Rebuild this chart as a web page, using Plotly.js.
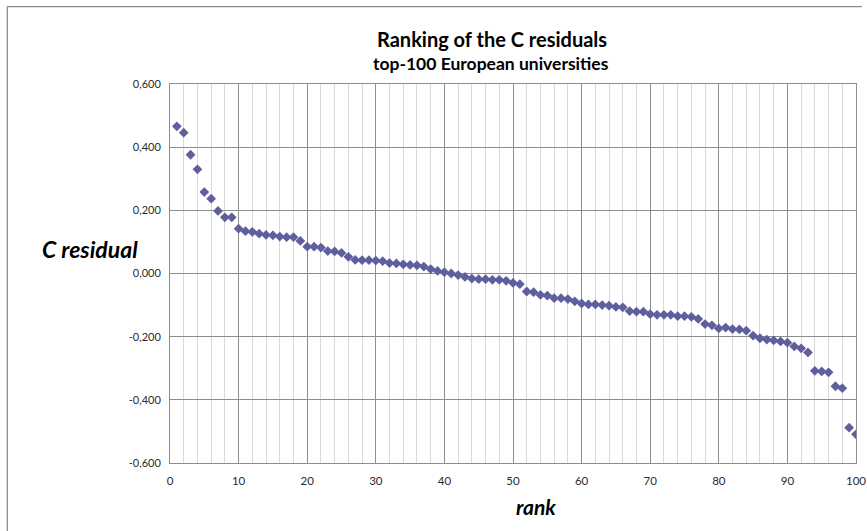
<!DOCTYPE html>
<html>
<head>
<meta charset="utf-8">
<script src="https://cdn.plot.ly/plotly-3.0.1.min.js"></script>
<style>html,body{margin:0;padding:0;background:#fff;}#chart{width:867px;height:531px;}</style>
</head>
<body>
<div id="chart"></div>
<script>
const ranks = [];
for (let i = 1; i <= 100; i++) ranks.push(i);

const residuals = [
  0.466, 0.446, 0.376, 0.330, 0.258, 0.237, 0.198, 0.178, 0.178, 0.142,
  0.134, 0.132, 0.126, 0.122, 0.121, 0.117, 0.115, 0.115, 0.103, 0.085,
  0.085, 0.082, 0.071, 0.070, 0.065, 0.053, 0.043, 0.042, 0.042, 0.041,
  0.039, 0.033, 0.032, 0.029, 0.027, 0.026, 0.022, 0.014, 0.008, 0.004,
  0.000, -0.005, -0.011, -0.016, -0.018, -0.018, -0.020, -0.020, -0.023, -0.030,
  -0.034, -0.057, -0.059, -0.068, -0.070, -0.078, -0.078, -0.081, -0.088, -0.095,
  -0.098, -0.098, -0.100, -0.102, -0.106, -0.107, -0.119, -0.121, -0.121, -0.129,
  -0.131, -0.131, -0.131, -0.135, -0.135, -0.137, -0.144, -0.160, -0.164, -0.174,
  -0.171, -0.176, -0.177, -0.181, -0.197, -0.205, -0.209, -0.212, -0.215, -0.219,
  -0.231, -0.237, -0.250, -0.308, -0.310, -0.313, -0.357, -0.363, -0.488, -0.509
];

const yTickVals = [0.6, 0.4, 0.2, 0, -0.2, -0.4, -0.6];
const yTickText = ["0,600", "0,400", "0,200", "0,000", "-0,200", "-0,400", "-0,600"];
const xTickVals = [0, 10, 20, 30, 40, 50, 60, 70, 80, 90, 100];

const chartTitle = "Ranking of the C residuals";
const chartSubtitle = "top-100 European universities";
const xTitle = "rank";
const yTitle = "C residual";

const FONT = "Lato, 'Open Sans', sans-serif";
const gridDark = "#8e8e8e";
const gridLight = "#d9d9d9";

const trace = {
  x: ranks,
  y: residuals,
  type: "scatter",
  mode: "markers",
  marker: { symbol: "diamond", size: 7.5, color: "#5f5f9e", line: { width: 0 } },
  hoverinfo: "x+y"
};

const layout = {
  width: 867,
  height: 531,
  margin: { l: 170, r: 11, t: 84, b: 68 },
  paper_bgcolor: "#ffffff",
  plot_bgcolor: "#ffffff",
  showlegend: false,
  font: { family: FONT, size: 12, color: "#333333" },
  xaxis: {
    range: [0, 100],
    tickvals: xTickVals,
    ticktext: xTickVals.map(String),
    showgrid: true,
    gridcolor: gridDark,
    gridwidth: 1,
    minor: { dtick: 2, tick0: 0, showgrid: true, gridcolor: gridLight, gridwidth: 1, ticks: "" },
    zeroline: false,
    showline: true,
    linecolor: gridDark,
    linewidth: 1,
    mirror: true,
    ticks: "",
    ticklabelstandoff: 7,
    tickfont: { family: FONT, size: 11.5, color: "#2b2b2b" },
    fixedrange: true
  },
  yaxis: {
    range: [-0.6, 0.6],
    tickvals: yTickVals,
    ticktext: yTickText,
    showgrid: true,
    gridcolor: gridDark,
    gridwidth: 1,
    zeroline: false,
    showline: true,
    linecolor: gridDark,
    linewidth: 1,
    mirror: true,
    ticks: "",
    ticklabelstandoff: 6,
    tickfont: { family: FONT, size: 11, color: "#2b2b2b" },
    fixedrange: true
  },
  annotations: [
    { text: "<b>" + chartTitle + "</b>", xref: "paper", yref: "paper", x: 0.47, y: 1.12,
      xanchor: "center", yanchor: "middle", showarrow: false,
      font: { family: FONT, size: 20, color: "#000000" } },
    { text: "<b>" + chartSubtitle + "</b>", xref: "paper", yref: "paper", x: 0.468, y: 1.053,
      xanchor: "center", yanchor: "middle", showarrow: false,
      font: { family: FONT, size: 17.5, color: "#000000" } },
    { text: "<b><i>" + yTitle + "</i></b>", xref: "paper", yref: "paper", x: -0.1166, y: 0.5646,
      xanchor: "center", yanchor: "middle", showarrow: false,
      font: { family: FONT, size: 23, color: "#000000" } },
    { text: "<b><i>" + xTitle + "</i></b>", xref: "paper", yref: "paper", x: 0.5335, y: -0.1135,
      xanchor: "center", yanchor: "middle", showarrow: false,
      font: { family: FONT, size: 21, color: "#000000" } }
  ],
  shapes: [
    { type: "line", xref: "paper", yref: "paper", x0: -0.2372, x1: -0.2372, y0: 1.204, y1: -0.19,
      line: { color: "#8a8a8a", width: 1.3 } },
    { type: "line", xref: "paper", yref: "paper", x0: -0.2372, x1: 1.0087, y0: 1.204, y1: 1.204,
      line: { color: "#8a8a8a", width: 1.3 } }
  ]
};

Plotly.newPlot("chart", [trace], layout, { displayModeBar: false, staticPlot: true });
</script>
</body>
</html>
